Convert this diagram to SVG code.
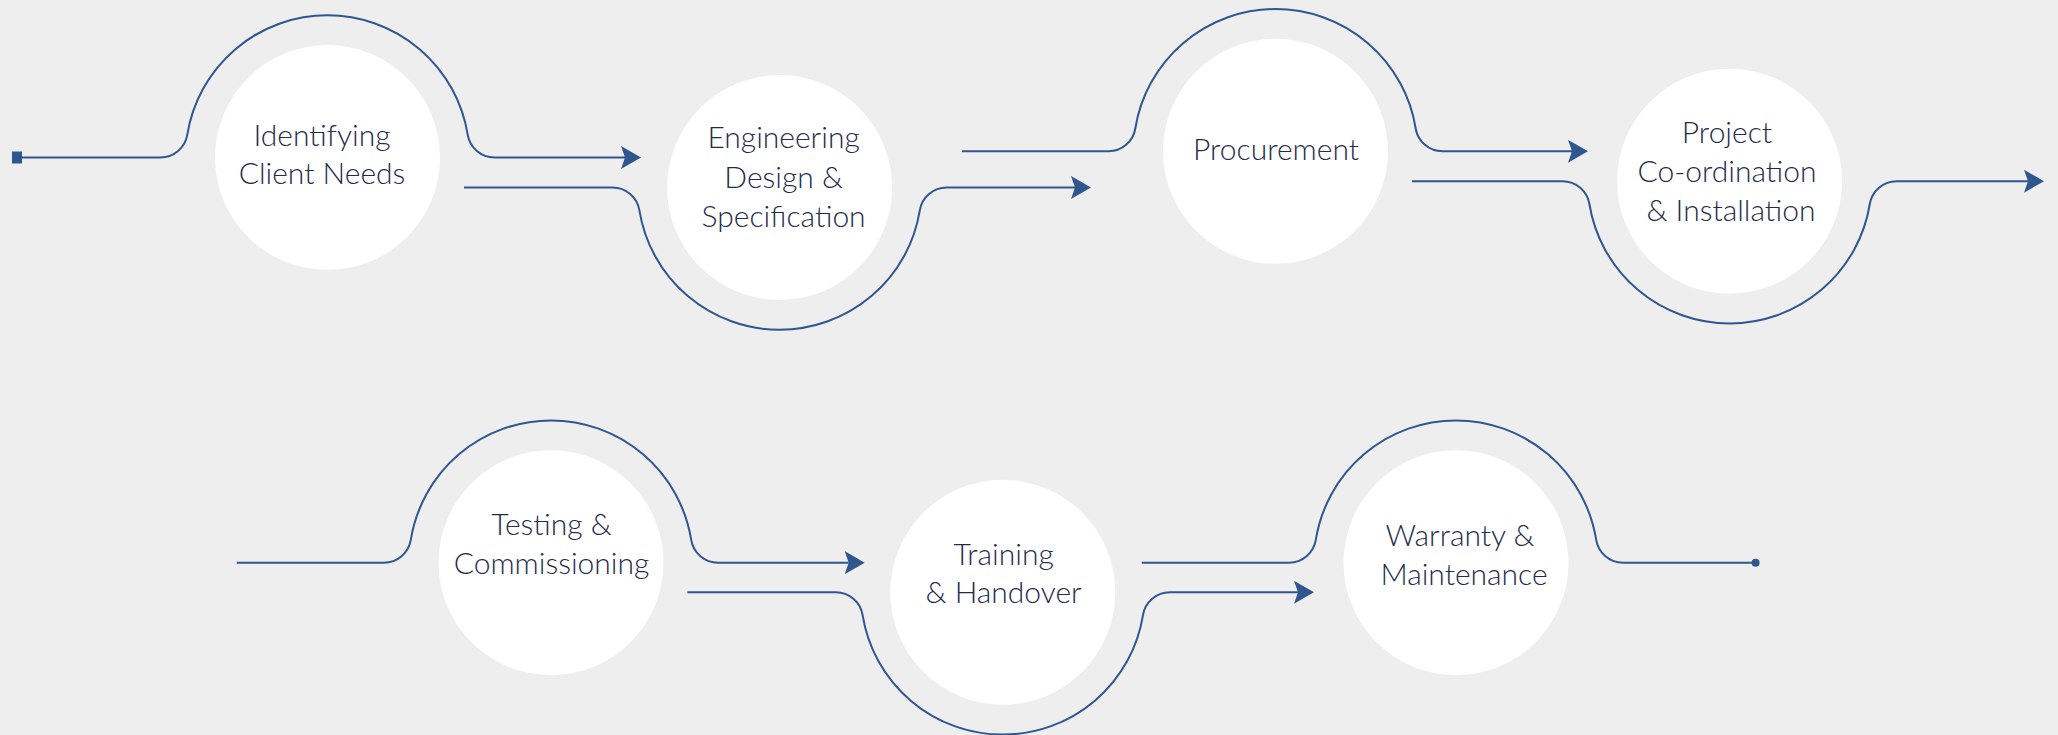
<svg xmlns="http://www.w3.org/2000/svg" width="2058" height="735" viewBox="0 0 2058 735">
<style>
.bg{fill:#eeeeee}
.node circle{fill:#ffffff}
.node text{font-family:Lato,"Noto Sans","Liberation Sans",sans-serif;font-weight:300;font-size:30px;fill:#1f2c4c;text-anchor:middle}
.conn path.l{fill:none;stroke:#30568f;stroke-width:2}
.arr{marker-end:url(#ah)}
</style>
<defs>
<marker id="ah" viewBox="0 0 20 23" refX="4" refY="11.5" markerWidth="20" markerHeight="23" markerUnits="userSpaceOnUse" orient="auto">
<path d="M0,0 L20,11.5 L0,23 L4,11.5 Z" fill="#30568f"/>
</marker>
</defs>
<rect class="bg" x="0" y="0" width="2058" height="735"/>
<g id="connectors" class="conn">
<rect x="12" y="151.5" width="10" height="12" fill="#30568f"/>
<path class="l arr" d="M22,157.5 H160.5 A27.2 27.2 0 0 0 187.3,134.7 A142 142 0 0 1 467.7,134.7 A27.2 27.2 0 0 0 494.5,157.5 H625"/>
<path class="l arr" d="M464,187.5 H612.6 A27.2 27.2 0 0 1 639.4,210.3 A142 142 0 0 0 919.8,210.3 A27.2 27.2 0 0 1 946.6,187.5 H1075"/>
<path class="l arr" d="M962,151.3 H1108.5 A27.2 27.2 0 0 0 1135.3,128.5 A142 142 0 0 1 1415.7,128.5 A27.2 27.2 0 0 0 1442.5,151.3 H1572"/>
<path class="l arr" d="M1412,181.2 H1562.6 A27.2 27.2 0 0 1 1589.4,204 A142 142 0 0 0 1869.8,204 A27.2 27.2 0 0 1 1896.6,181.2 H2028"/>
<path class="l arr" d="M236.7,562.7 H384 A27.2 27.2 0 0 0 410.8,539.9 A142 142 0 0 1 691.2,539.9 A27.2 27.2 0 0 0 718,562.7 H848.7"/>
<path class="l arr" d="M687.4,592.3 H835.8 A27.2 27.2 0 0 1 862.6,615.1 A142 142 0 0 0 1143,615.1 A27.2 27.2 0 0 1 1169.8,592.3 H1298"/>
<path class="l" d="M1141.8,562.7 H1289 A27.2 27.2 0 0 0 1315.8,539.9 A142 142 0 0 1 1596.2,539.9 A27.2 27.2 0 0 0 1623,562.7 H1755.6"/>
<circle cx="1755.6" cy="562.7" r="4" fill="#30568f"/>
</g>
<g id="n1" class="node"><circle cx="327.5" cy="157.5" r="112.5"/><text x="322" y="145.7">Identifying</text><text x="322" y="184">Client Needs</text></g>
<g id="n2" class="node"><circle cx="779.6" cy="187.5" r="112.5"/><text x="783.6" y="148.3">Engineering</text><text x="783.6" y="187.7">Design &amp;</text><text x="783.6" y="226.7">Specification</text></g>
<g id="n3" class="node"><circle cx="1275.5" cy="151.3" r="112.5"/><text x="1276" y="160">Procurement</text></g>
<g id="n4" class="node"><circle cx="1729.6" cy="181.2" r="112.5"/><text x="1727" y="142.7">Project</text><text x="1727" y="181.7">Co-ordination</text><text x="1731" y="220.7">&amp; Installation</text></g>
<g id="n5" class="node"><circle cx="551" cy="562.7" r="112.5"/><text x="551.5" y="535">Testing &amp;</text><text x="551.5" y="574">Commissioning</text></g>
<g id="n6" class="node"><circle cx="1002.8" cy="592.3" r="112.5"/><text x="1003.6" y="565">Training</text><text x="1003.6" y="603.3">&amp; Handover</text></g>
<g id="n7" class="node"><circle cx="1456" cy="562.7" r="112.5"/><text x="1460" y="545.7">Warranty &amp;</text><text x="1464" y="585">Maintenance</text></g>
</svg>
